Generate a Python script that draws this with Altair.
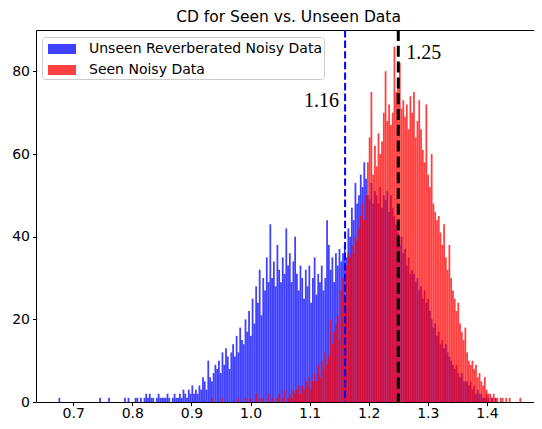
import altair as alt
import pandas as pd

# ---------------- data ----------------
bin_width = 0.003
series_names = ["Unseen Reverberated Noisy Data", "Seen Noisy Data"]
series_colors = ["#0000ff", "#ff0000"]

blue_start = 0.675
blue_counts = [
    1, 0, 0, 0, 0, 0, 0, 0, 0, 0,
    0, 0, 0, 0, 0, 0, 0, 0, 0, 0,
    0, 0, 0, 1, 0, 0, 0, 0, 1, 0,
    0, 0, 0, 0, 0, 0, 0, 1, 0, 1,
    0, 0, 0, 1, 1, 0, 1, 0, 1, 2,
    1, 2, 1, 1, 0, 1, 2, 1, 1, 1,
    1, 2, 1, 0, 1, 2, 1, 1, 2, 1,
    3, 2, 1, 3, 2, 4, 2, 3, 2, 4,
    3, 6, 5, 3, 10, 6, 5, 7, 9, 8,
    10, 7, 12, 9, 13, 11, 8, 12, 14, 11,
    16, 12, 18, 15, 14, 20, 17, 22, 16, 25,
    19, 28, 24, 32, 21, 30, 27, 35, 29, 43,
    30, 34, 28, 38, 32, 29, 35, 31, 42, 33,
    36, 29, 34, 40, 31, 27, 33, 30, 25, 32,
    28, 33, 24, 30, 35, 26, 31, 29, 33, 27,
    30, 44, 38, 32, 35, 29, 36, 33, 37, 34,
    36, 38, 35, 42, 40, 47, 44, 53, 48, 50,
    55, 52, 58, 54, 50, 49, 53, 48, 51, 50,
    48, 52, 47, 50, 49, 51, 46, 50, 47, 45,
    43, 41, 38, 40, 36, 37, 33, 35, 31, 32,
    31, 29, 30, 27, 28, 25, 27, 24, 25, 22,
    20, 18, 19, 16, 17, 14, 15, 13, 14, 12,
    11, 10, 9, 8, 9, 7, 6, 7, 5, 5,
    5, 4, 5, 3, 4, 2, 3, 2, 2, 1,
    1, 2, 1, 0, 1, 0, 1, 0, 0, 0,
]

red_start = 0.927
red_counts = [
    0, 0, 1, 0, 0, 0, 0, 0, 1, 0,
    0, 0, 0, 0, 0, 0, 0, 1, 0, 0,
    0, 1, 0, 0, 1, 0, 0, 2, 0, 1,
    0, 1, 0, 0, 2, 0, 1, 0, 0, 1,
    2, 0, 1, 3, 0, 1, 2, 1, 3, 2,
    3, 4, 2, 4, 3, 5, 4, 6, 3, 5,
    7, 5, 9, 6, 10, 8, 12, 9, 11, 20,
    14, 17, 19, 21, 15, 27, 30, 25, 33, 36,
    35, 38, 36, 40, 39, 42, 45, 48, 44, 50,
    58, 64, 75, 55, 62, 57, 65, 60, 63, 70,
    80, 68, 72, 67, 70, 86, 75, 78, 82, 71,
    73, 69, 72, 66, 74, 70, 75, 64, 68, 73,
    66, 61, 58, 72, 55, 52, 60, 48, 46, 44,
    45, 41, 38, 43, 35, 32, 38, 30, 27, 25,
    22, 24, 19, 17, 15, 18, 12, 10, 9, 10,
    8, 9, 6, 7, 5, 4, 6, 3, 2, 2,
    1, 2, 1, 1, 0, 1, 1, 0, 1, 0,
    1, 0, 0, 0, 0, 0, 1, 0, 0, 0,
]

x_ticks = [0.7, 0.8, 0.9, 1.0, 1.1, 1.2, 1.3, 1.4]
y_ticks = [0, 20, 40, 60, 80]
line_values = [1.16, 1.25]
line_labels = ["1.16", "1.25"]
line_label_y = [71.3, 83.0]

title_text = "CD for Seen vs. Unseen Data"

# ---------------- build table ----------------
rows = []
for name, start, counts in [
    (series_names[0], blue_start, blue_counts),
    (series_names[1], red_start, red_counts),
]:
    for i, c in enumerate(counts):
        if c > 0:
            rows.append({
                "series": name,
                "x0": round(start + i * bin_width, 4),
                "x1": round(start + (i + 1) * bin_width, 4),
                "count": c,
            })
hist_df = pd.DataFrame(rows)

xscale = alt.Scale(domain=[0.637, 1.4915], nice=False, zero=False)
yscale = alt.Scale(domain=[0, 90], nice=False, zero=True)

FONT = "DejaVu Sans"

hist = alt.Chart(hist_df).mark_rect(opacity=0.75, strokeWidth=0).encode(
    x=alt.X("x0:Q", scale=xscale, title=None,
            axis=alt.Axis(values=x_ticks, format=".1f", grid=False, domain=False,
                          tickColor="black", tickSize=3.5, labelPadding=1,
                          labelFont=FONT, labelFontSize=14, labelColor="black")),
    x2="x1:Q",
    y=alt.Y("count:Q", scale=yscale, title=None,
            axis=alt.Axis(values=y_ticks, grid=False, domain=False,
                          tickColor="black", tickSize=3.5, labelPadding=3,
                          labelFont=FONT, labelFontSize=14, labelColor="black")),
    y2=alt.datum(0),
    color=alt.Color("series:N",
                    scale=alt.Scale(domain=series_names, range=series_colors),
                    legend=alt.Legend(
                        title=None, orient="none", legendX=6, legendY=7,
                        direction="vertical",
                        symbolType="M-0.6,-0.5H2.2V0.5H-0.6Z", symbolSize=400,
                        symbolOpacity=0.75, symbolStrokeWidth=0,
                        labelFont=FONT, labelFontSize=14, labelColor="black",
                        labelLimit=0, labelOffset=25, rowPadding=4, padding=2,
                        strokeColor="#cccccc", cornerRadius=3,
                        fillColor="rgba(255,255,255,0.8)")),
)

blue_line = alt.Chart(pd.DataFrame({"v": [line_values[0]]})).mark_rule(
    color="#0000ff", strokeWidth=2, strokeDash=[7.4, 3.2]
).encode(x=alt.X("v:Q", scale=xscale))

black_line = alt.Chart(pd.DataFrame({"v": [line_values[1]]})).mark_rule(
    color="black", strokeWidth=3, strokeDash=[11, 4.8]
).encode(x=alt.X("v:Q", scale=xscale))

lbl1 = alt.Chart(pd.DataFrame({"v": [line_values[0]], "y": [line_label_y[0]], "t": [line_labels[0]]})).mark_text(
    font="Liberation Serif", fontSize=20, align="right", baseline="alphabetic", dx=-6, color="black"
).encode(x=alt.X("v:Q", scale=xscale), y=alt.Y("y:Q", scale=yscale), text="t:N")

lbl2 = alt.Chart(pd.DataFrame({"v": [line_values[1]], "y": [line_label_y[1]], "t": [line_labels[1]]})).mark_text(
    font="Liberation Serif", fontSize=20, align="left", baseline="alphabetic", dx=8, color="black"
).encode(x=alt.X("v:Q", scale=xscale), y=alt.Y("y:Q", scale=yscale), text="t:N")

chart = alt.layer(hist, blue_line, black_line, lbl1, lbl2).properties(
    width=505, height=372,
    title=alt.Title(title_text, font=FONT, fontSize=15.5, fontWeight="normal",
                    color="black", anchor="middle", offset=3.5),
    autosize=alt.AutoSizeParams(type="none"),
    padding={"left": 28, "top": 22, "right": -7, "bottom": 19},
).configure_view(stroke="black", strokeWidth=1)

chart.save("out.html", embed_options={"renderer": "svg", "actions": False})
